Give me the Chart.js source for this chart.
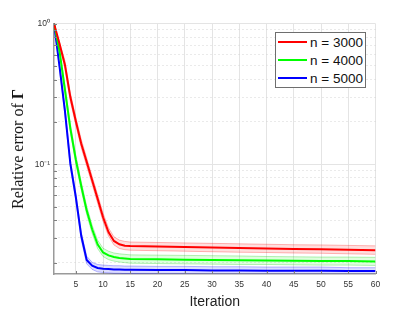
<!DOCTYPE html>
<html>
<head>
<meta charset="utf-8">
<script src="https://cdn.jsdelivr.net/npm/chart.js@4/dist/chart.umd.min.js"></script>
<style>
  body { margin: 0; background: #fff; }
  .wrap { position: relative; width: 415px; height: 312px; }
  .legend {
    position: absolute; left: 275px; top: 32px; width: 91px; height: 56px;
    border: 1px solid #6e6e6e; background: #fff; box-sizing: border-box;
    font-family: "Liberation Sans", Arial, sans-serif; font-size: 13.5px; color: #111;
  }
  .legend .row { display: flex; align-items: center; height: 18px; }
  .legend .swatch { width: 29px; height: 2px; margin: 0 3px 0 2px; }
  .ytitle {
    position: absolute; left: 18px; top: 149px; white-space: nowrap;
    transform: translate(-50%, -50%) rotate(-90deg);
    font-family: "Liberation Serif", serif; font-size: 16px; color: #111;
  }
</style>
</head>
<body>
<div class="wrap">
  <canvas id="errChart"></canvas>
  <div class="ytitle">Relative error of <b>Γ</b></div>
  <div class="legend" id="legend"></div>
</div>
<script>
// 迭代次數（x 軸）
const iterations = [1, 2, 3, 4, 5, 6, 7, 8, 9, 10, 11, 12, 13, 14, 15, 20, 25, 30, 35, 40, 45, 50, 55, 60];

// n = 3000
const red = [1.0, 0.72, 0.51, 0.30, 0.203, 0.14, 0.104, 0.077, 0.057, 0.042, 0.033, 0.0285, 0.027, 0.0264, 0.0262, 0.0260, 0.0258, 0.0256, 0.0254, 0.0252, 0.0250, 0.0249, 0.0247, 0.0245];
const redHigh = [1.0, 0.74, 0.545, 0.32, 0.217, 0.15, 0.111, 0.082, 0.061, 0.045, 0.0353, 0.0305, 0.0289, 0.0283, 0.0280, 0.0278, 0.0276, 0.0274, 0.0272, 0.0270, 0.0268, 0.0267, 0.0265, 0.0263];
const redLow = [1.0, 0.70, 0.477, 0.28, 0.19, 0.131, 0.097, 0.072, 0.053, 0.0393, 0.0309, 0.0267, 0.0252, 0.0247, 0.0245, 0.0243, 0.0241, 0.0239, 0.0237, 0.0236, 0.0234, 0.0233, 0.0231, 0.0229];

// n = 4000
const green = [1.0, 0.64, 0.34, 0.18, 0.108, 0.070, 0.047, 0.0345, 0.027, 0.0236, 0.0225, 0.0219, 0.0216, 0.0214, 0.0212, 0.0211, 0.0210, 0.0209, 0.0208, 0.0207, 0.0206, 0.0205, 0.0205, 0.0204];
const greenHigh = [1.0, 0.66, 0.364, 0.193, 0.116, 0.075, 0.0503, 0.0369, 0.0289, 0.0253, 0.0241, 0.0234, 0.0231, 0.0229, 0.0227, 0.0226, 0.0225, 0.0224, 0.0223, 0.0221, 0.0220, 0.0219, 0.0219, 0.0218];
const greenLow = [1.0, 0.62, 0.318, 0.168, 0.101, 0.0655, 0.044, 0.0323, 0.0252, 0.0221, 0.021, 0.0205, 0.0202, 0.0200, 0.0198, 0.0197, 0.0196, 0.0195, 0.0194, 0.0194, 0.0193, 0.0192, 0.0192, 0.0191];

// n = 5000
const blue = [1.0, 0.50, 0.24, 0.101, 0.0587, 0.031, 0.0209, 0.019, 0.0183, 0.0181, 0.0180, 0.0179, 0.0179, 0.0178, 0.0178, 0.0177, 0.0177, 0.0176, 0.0176, 0.0175, 0.0175, 0.0175, 0.0174, 0.0174];
const blueHigh = [1.0, 0.52, 0.254, 0.107, 0.0622, 0.0329, 0.0222, 0.0201, 0.0194, 0.0192, 0.0191, 0.019, 0.019, 0.0189, 0.0189, 0.0188, 0.0188, 0.0187, 0.0187, 0.0186, 0.0186, 0.0186, 0.0184, 0.0184];
const blueLow = [1.0, 0.48, 0.226, 0.095, 0.0552, 0.0291, 0.0196, 0.0179, 0.0172, 0.017, 0.0169, 0.0168, 0.0168, 0.0167, 0.0167, 0.0166, 0.0166, 0.0165, 0.0165, 0.0165, 0.0165, 0.0165, 0.0164, 0.0164];

const seriesNames = ["n = 3000", "n = 4000", "n = 5000"];
const xTicks = [5, 10, 15, 20, 25, 30, 35, 40, 45, 50, 55, 60];
const yTicks = [1, 0.9, 0.8, 0.7, 0.6, 0.5, 0.4, 0.3, 0.2, 0.1, 0.09, 0.08, 0.07, 0.06, 0.05, 0.04, 0.03, 0.02];
const yLabels = { 1: "10⁰", 0.1: "10⁻¹" };

const colors = ["#ff0000", "#00ff00", "#0000ff"];
const bandFill = ["rgba(255,0,0,0.13)", "rgba(0,255,0,0.13)", "rgba(0,0,255,0.13)"];
const bandEdge = ["rgba(255,0,0,0.28)", "rgba(0,200,0,0.28)", "rgba(0,0,255,0.28)"];

const pts = arr => arr.map((v, i) => ({ x: iterations[i], y: v }));
const isDecade = v => Math.abs(Math.log10(v) - Math.round(Math.log10(v))) < 1e-9;

const means = [red, green, blue];
const highs = [redHigh, greenHigh, blueHigh];
const lows = [redLow, greenLow, blueLow];

const datasets = [];
means.forEach((m, k) => {
    datasets.push({ label: seriesNames[k], data: pts(m), borderColor: colors[k], borderWidth: 2, pointRadius: 0, fill: false, order: 0 });
});
means.forEach((m, k) => {
    datasets.push({ label: "", data: pts(highs[k]), borderColor: bandEdge[k], backgroundColor: bandFill[k], borderWidth: 1, pointRadius: 0, fill: "+1", order: 1 });
    datasets.push({ label: "", data: pts(lows[k]), borderColor: bandEdge[k], borderWidth: 1, pointRadius: 0, fill: false, order: 1 });
});

// 座標軸內側的小刻度
const innerTicks = {
    id: "innerTicks",
    afterDatasetsDraw(chart) {
        const { ctx, chartArea: a, scales: { x, y } } = chart;
        ctx.save();
        ctx.strokeStyle = "#808080";
        ctx.lineWidth = 1;
        ctx.beginPath();
        x.ticks.forEach(t => {
            const px = Math.round(x.getPixelForValue(t.value)) + 0.5;
            ctx.moveTo(px, a.bottom); ctx.lineTo(px, a.bottom - 3);
        });
        y.ticks.forEach(t => {
            const py = Math.round(y.getPixelForValue(t.value)) + 0.5;
            ctx.moveTo(a.left, py); ctx.lineTo(a.left + 3, py);
        });
        ctx.stroke();
        ctx.restore();
    }
};

new Chart(document.getElementById("errChart"), {
    type: "line",
    data: { datasets },
    options: {
        responsive: true,
        maintainAspectRatio: false,
        animation: false,
        layout: { padding: { left: 0, right: 39.5, top: 23.5, bottom: 0 } },
        plugins: { legend: { display: false }, tooltip: { enabled: false } },
        elements: { line: { tension: 0 } },
        scales: {
            x: {
                type: "linear",
                min: 1,
                max: 60,
                afterBuildTicks: s => { s.ticks = xTicks.map(v => ({ value: v })); },
                afterFit: s => { s.height = 38; },
                grid: { color: "#e4e4e4", lineWidth: 1, drawTicks: false },
                border: { color: "#9a9a9a", width: 1.5 },
                ticks: { color: "#333", padding: 6, font: { family: "Liberation Sans", size: 8.5 }, maxRotation: 0, autoSkip: false },
                title: { display: true, text: "Iteration", color: "#222", font: { family: "Liberation Sans", size: 14 }, padding: { top: 0, bottom: 1.3 } }
            },
            y: {
                type: "logarithmic",
                min: 0.0166,
                max: 1,
                afterBuildTicks: s => { s.ticks = yTicks.map(v => ({ value: v })); },
                afterFit: s => { s.width = 54; },
                grid: {
                    drawTicks: false,
                    lineWidth: 1,
                    color: c => (c.tick && isDecade(c.tick.value)) ? "#e4e4e4" : "#d4d4d4"
                },
                border: {
                    color: "#9a9a9a",
                    width: 1.5,
                    dash: c => (c.tick && !isDecade(c.tick.value)) ? [1, 3] : []
                },
                ticks: {
                    color: "#333",
                    padding: 4,
                    autoSkip: false,
                    font: { family: "Liberation Sans", size: 8.5 },
                    callback: v => yLabels[v] || ""
                },
                title: { display: false }
            }
        }
    },
    plugins: [innerTicks]
});

// 圖例
const legend = document.getElementById("legend");
seriesNames.forEach((name, k) => {
    const row = document.createElement("div");
    row.className = "row";
    row.innerHTML = '<span class="swatch" style="background:' + colors[k] + '"></span><span>' + name + "</span>";
    legend.appendChild(row);
});
</script>
</body>
</html>
